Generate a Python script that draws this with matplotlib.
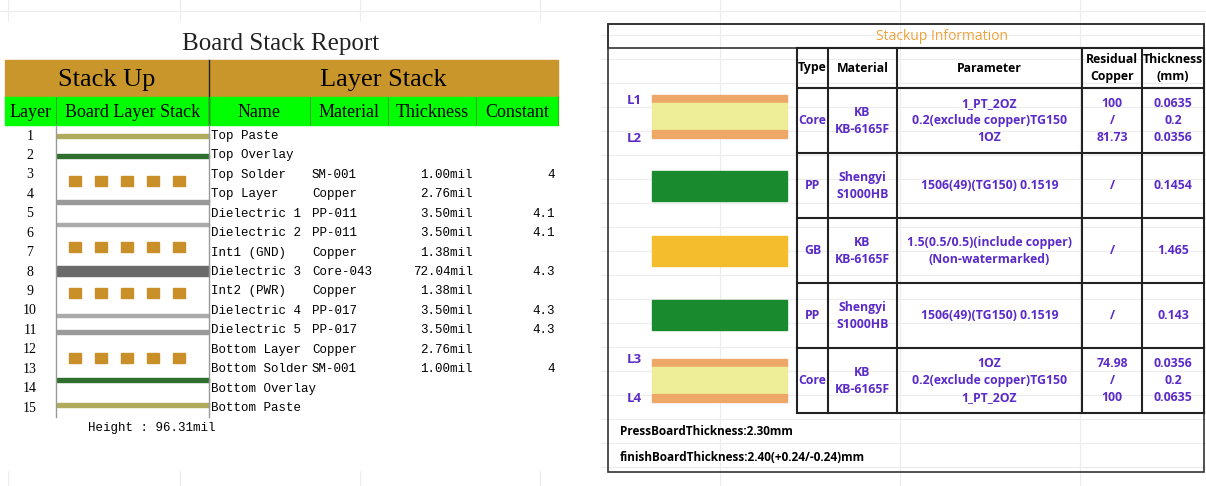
import matplotlib
matplotlib.use("Agg")
import matplotlib.pyplot as plt
from matplotlib.patches import Rectangle

layer_nums = list(range(1, 16))
layer_names = ["Top Paste", "Top Overlay", "Top Solder", "Top Layer", "Dielectric 1", "Dielectric 2",
               "Int1 (GND)", "Dielectric 3", "Int2 (PWR)", "Dielectric 4", "Dielectric 5",
               "Bottom Layer", "Bottom Solder", "Bottom Overlay", "Bottom Paste"]
layer_materials = ["", "", "SM-001", "Copper", "PP-011", "PP-011", "Copper", "Core-043", "Copper",
                   "PP-017", "PP-017", "Copper", "SM-001", "", ""]
layer_thickness = ["", "", "1.00mil", "2.76mil", "3.50mil", "3.50mil", "1.38mil", "72.04mil", "1.38mil",
                   "3.50mil", "3.50mil", "2.76mil", "1.00mil", "", ""]
layer_constant = ["", "", "4", "", "4.1", "4.1", "", "4.3", "", "4.3", "4.3", "", "4", "", ""]
board_height = "Height : 96.31mil"

si_types = ["Core", "PP", "GB", "PP", "Core"]
si_materials = ["KB\nKB-6165F", "Shengyi\nS1000HB", "KB\nKB-6165F", "Shengyi\nS1000HB", "KB\nKB-6165F"]
si_params = ["1_PT_2OZ\n0.2(exclude copper)TG150\n1OZ", "1506(49)(TG150) 0.1519",
             "1.5(0.5/0.5)(include copper)\n(Non-watermarked)", "1506(49)(TG150) 0.1519",
             "1OZ\n0.2(exclude copper)TG150\n1_PT_2OZ"]
si_residual = ["100\n/\n81.73", "/", "/", "/", "74.98\n/\n100"]
si_thickness = ["0.0635\n0.2\n0.0356", "0.1454", "1.465", "0.143", "0.0356\n0.2\n0.0635"]
press_text = "PressBoardThickness:2.30mm"
finish_text = "finishBoardThickness:2.40(+0.24/-0.24)mm"

fig = plt.figure(figsize=(12.06, 4.86), dpi=100)
ax = fig.add_axes([0, 0, 1, 1])
ax.set_xlim(0, 1206); ax.set_ylim(486, 0); ax.axis("off")

def rect(x0, y0, x1, y1, **kw):
    ax.add_patch(Rectangle((x0, y0), x1 - x0, y1 - y0, **kw))

for y in range(11, 486, 24):
    ax.plot([0, 1206], [y, y], color="#ececec", lw=0.8, zorder=0)
for x in [8, 180, 360, 540, 720, 900, 1080]:
    ax.plot([x, x], [0, 486], color="#ececec", lw=0.8, zorder=0)

SERIF = "Liberation Serif"
MONO = "Liberation Mono"
rect(0, 22, 600, 470, color="white", zorder=0.5)
ax.text(281, 44, "Board Stack Report", ha="center", va="center", fontsize=18, family=SERIF, color="#222")
rect(5, 60, 558, 97, color="#c9962b")
ax.plot([209, 209], [60, 125], color="#222", lw=1)
ax.text(107, 80, "Stack Up", ha="center", va="center", fontsize=19, family=SERIF)
ax.text(383, 80, "Layer Stack", ha="center", va="center", fontsize=19, family=SERIF)
rect(5, 97, 558, 125, color="#00ff00")
cols = [(5, 56, "Layer"), (56, 209, "Board Layer Stack"), (209, 310, "Name"), (310, 388, "Material"),
        (388, 476, "Thickness"), (476, 558, "Constant")]
for x0, x1, t in cols:
    ax.text((x0 + x1) / 2, 112, t, ha="center", va="center", fontsize=13, family=SERIF)
    ax.plot([x1, x1], [97, 125], color="#5a8a3a", lw=0.6)
ax.plot([56, 56], [125, 417], color="#999", lw=1)
ax.plot([209, 209], [125, 417], color="#999", lw=1)
rh = 19.43
for i, n in enumerate(layer_nums):
    y = 136 + i * rh
    ax.text(30, y, str(n), ha="center", va="center", fontsize=10, family=SERIF)
    ax.text(211, y, layer_names[i], ha="left", va="center", fontsize=9, family=MONO)
    ax.text(312, y, layer_materials[i], ha="left", va="center", fontsize=9, family=MONO)
    ax.text(473, y, layer_thickness[i], ha="right", va="center", fontsize=9, family=MONO)
    ax.text(555, y, layer_constant[i], ha="right", va="center", fontsize=9, family=MONO)
def hbar(y, h, c):
    rect(57, y - h / 2, 209, y + h / 2, color=c)
def pads(y):
    for x in [75, 101, 127, 153, 179]:
        rect(x - 6, y - 5, x + 6, y + 5, color="#c9902a")
hbar(136, 4, "#b0aa5c"); hbar(156, 4, "#2e6e2e"); pads(181)
hbar(202, 4, "#9a9a9a"); hbar(224, 3, "#aaaaaa"); pads(247)
hbar(271, 10, "#6a6a6a"); pads(293); hbar(315, 3, "#aaaaaa"); hbar(332, 4, "#9a9a9a")
pads(358); hbar(380, 4, "#2e6e2e"); hbar(405, 4, "#b0aa5c")
ax.text(88, 428, board_height, ha="left", va="center", fontsize=9, family=MONO)

PURP = "#5b2bc8"
rect(608, 24, 1204, 472, fill=False, ec="#333", lw=1.2)
rect(608, 24, 1204, 48, fill=False, ec="#333", lw=1.2)
ax.text(942, 36, "Stackup Information", ha="center", va="center", fontsize=10, color="#f0a23c", family="Open Sans")
cx = [797, 828, 897, 1082, 1142, 1204]
ry = [48, 88, 153, 218, 283, 348, 413]
for x in cx:
    ax.plot([x, x], [ry[0], ry[-1]], color="#222", lw=1.5)
for y in ry:
    ax.plot([797, 1204], [y, y], color="#222", lw=1.5)
heads = ["Type", "Material", "Parameter", "Residual\nCopper", "Thickness\n(mm)"]
for j, h in enumerate(heads):
    ax.text((cx[j] + cx[j + 1]) / 2, 68, h, ha="center", va="center", fontsize=8.8, weight="bold",
            family="Open Sans", linespacing=1.4)
for i in range(5):
    yc = (ry[i + 1] + ry[i + 2]) / 2
    for j, t in enumerate([si_types[i], si_materials[i], si_params[i], si_residual[i], si_thickness[i]]):
        ax.text((cx[j] + cx[j + 1]) / 2, yc, t, ha="center", va="center", fontsize=8.8, weight="bold",
                color=PURP, family="Open Sans", linespacing=1.4)
ORG, YEL, GRN, GB = "#eda868", "#eeee99", "#1a8a2e", "#f4bd2e"
def core(y0):
    rect(652, y0, 787, y0 + 8, color=ORG); rect(652, y0 + 8, 787, y0 + 35, color=YEL)
    rect(652, y0 + 35, 787, y0 + 43, color=ORG)
core(95); core(359)
rect(652, 171, 787, 201, color=GRN); rect(652, 300, 787, 330, color=GRN)
rect(652, 236, 787, 266, color=GB)
for t, y in [("L1", 100), ("L2", 138), ("L3", 359), ("L4", 398)]:
    ax.text(634, y, t, ha="center", va="center", fontsize=9.5, weight="bold", color=PURP, family="Open Sans")
ax.text(620, 431, press_text, ha="left", va="center", fontsize=8.5, weight="bold", family="Open Sans")
ax.text(620, 457, finish_text, ha="left", va="center", fontsize=8.5, weight="bold", family="Open Sans")
fig.savefig("out.png", dpi=100)
